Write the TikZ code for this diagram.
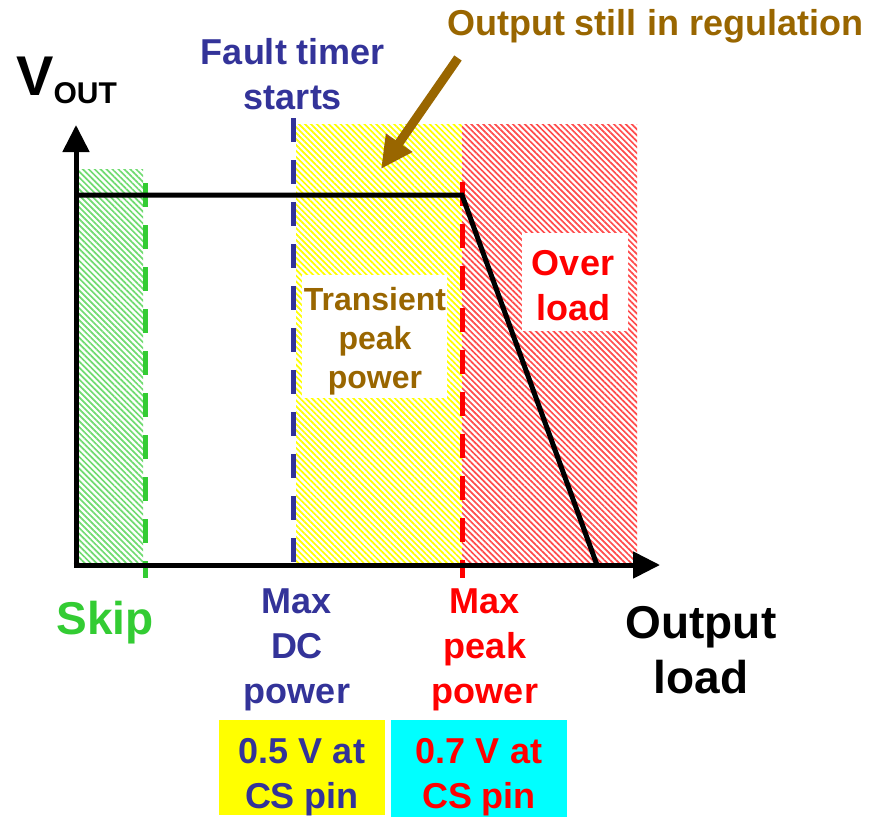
\documentclass[tikz,border=0pt]{standalone}
\usepackage{fontspec}
\setmainfont{Liberation Sans}
\usetikzlibrary{arrows.meta,patterns.meta}
\definecolor{myblue}{HTML}{333399}
\definecolor{mybrown}{HTML}{996600}
\definecolor{mygreen}{HTML}{33CC33}
\definecolor{myyellow}{HTML}{FFFF00}
\definecolor{mycyan}{HTML}{00FFFF}
\definecolor{myred}{HTML}{FF0000}
\tikzset{
  hatch/.style={pattern={Lines[angle=-45,distance=4.2pt,line width=1.7pt]}},
  axisline/.style={line width=5pt,-{Triangle[width=26pt,length=27pt]}},
  curve/.style={line width=5pt},
  dashline/.style={line width=5pt,dash pattern=on 24pt off 18pt},
  lbl/.style={font=\bfseries\fontsize{36}{45}\selectfont,inner sep=0pt,align=center,anchor=base},
  whitebox/.style={fill=white,draw=none}
}
\begin{document}
\begin{tikzpicture}[x=1pt,y=-1pt]
\useasboundingbox (0,0) rectangle (886,817);
% hatched regions
\fill[hatch,pattern color=mygreen!70] (78,169) rectangle (143,565);
\fill[hatch,pattern color=myyellow] (296,124) rectangle (462,565);
\fill[hatch,pattern color=myred!70] (462,124) rectangle (637,565);
% white label boxes
\fill[whitebox] (302,275) rectangle (447,398);
\fill[whitebox] (522,233) rectangle (628,331);
% coordinates
\coordinate (O) at (76,565);
\coordinate (ytip) at (76,125);
\coordinate (xtip) at (660,565);
\coordinate (hstart) at (76,195);
\coordinate (knee) at (462,195);
\coordinate (foot) at (597,565);
\coordinate (g1) at (145,183);
\coordinate (g2) at (145,578);
\coordinate (b1) at (293,118);
\coordinate (b2) at (293,565);
\coordinate (r1) at (462,182);
\coordinate (r2) at (462,578);
\coordinate (a1) at (458,58);
\coordinate (a2) at (381,169);
% dashed lines
\draw[dashline,mygreen] (g1) -- (g2);
\draw[dashline,myblue] (b1) -- (b2);
\draw[dashline,myred] (r1) -- (r2);
% characteristic
\draw[curve] (hstart) -- (knee) -- (foot);
% axes
\draw[axisline] (O) -- (ytip);
\draw[axisline] ([xshift=-2.5pt]O) -- (xtip);
% brown arrow
\draw[mybrown,line width=9pt,-{Triangle[width=30pt,length=32pt]}] (a1) -- (a2);
% bottom boxes
\fill[myyellow] (219,720) rectangle (385,815);
\fill[mycyan] (391,720) rectangle (567,817);
% texts
\node[lbl,text=mybrown] (reg) at (655,35) {Output still in regulation};
\node[lbl,text=myblue] (fault) at (293,109) {Fault timer\\starts};
\node[inner sep=0pt,anchor=base west,font=\bfseries\fontsize{56}{56}\selectfont] (vout) at (16,95) {V\raisebox{-8pt}{\fontsize{30}{30}\selectfont OUT}};
\node[lbl,text=mygreen,font=\bfseries\fontsize{46}{50}\selectfont] (skip) at (105,634) {Skip};
\node[lbl,text=myblue] (maxdc) at (297,703) {Max\\DC\\power};
\node[lbl,text=myred] (maxpk) at (485,703) {Max\\peak\\power};
\node[lbl,text=black,font=\bfseries\fontsize{46}{55}\selectfont] (load) at (701,693) {Output\\load};
\node[lbl,text=mybrown,font=\bfseries\fontsize{32}{39}\selectfont] (trans) at (375,388) {Transient\\peak\\power};
\node[lbl,text=myred] (over) at (573,320) {Over\\load};
\node[lbl,text=myblue] (cs5) at (302,808) {0.5 V at\\CS pin};
\node[lbl,text=myred] (cs7) at (479,808) {0.7 V at\\CS pin};
\end{tikzpicture}
\end{document}
